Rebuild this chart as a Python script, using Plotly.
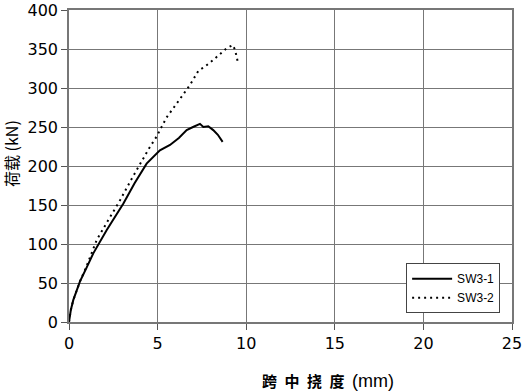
import plotly.graph_objects as go

# SW3-1 (solid)
sw31_x = [0, 0.1, 0.24, 0.62, 1.0, 1.37, 2.13, 3.07, 3.7, 4.38, 5.13, 5.5, 5.7, 6.2, 6.64, 7.0, 7.39, 7.58, 7.86, 8.14, 8.4, 8.67]
sw31_y = [0, 15, 28, 52, 70, 88, 118, 152, 178, 203, 220, 224, 227, 236, 246, 250, 254, 250, 251, 246, 240, 231]

# SW3-2 (dotted)
sw32_x = [0, 0.1, 0.24, 0.62, 1.0, 1.56, 2.2, 2.88, 3.5, 4.0, 4.5, 4.95, 5.5, 6.2, 6.83, 7.3, 7.7, 8.14, 8.5, 8.9, 9.24, 9.37, 9.52]
sw32_y = [0, 15, 28, 52, 72, 105, 130, 156, 182, 203, 222, 238, 262, 284, 304, 322, 328, 336, 343, 351, 355, 349, 334]

x_ticks = [0, 5, 10, 15, 20, 25]
y_ticks = [0, 50, 100, 150, 200, 250, 300, 350, 400]

fig = go.Figure()
fig.add_trace(go.Scatter(x=sw31_x, y=sw31_y, mode="lines", name="SW3-1",
                         line=dict(color="black", width=2, dash="solid")))
fig.add_trace(go.Scatter(x=sw32_x, y=sw32_y, mode="lines", name="SW3-2",
                         line=dict(color="black", width=2, dash="2px,4px")))

font_family = "DejaVu Sans, Liberation Sans, sans-serif"
cjk = "Noto Sans CJK SC, sans-serif"
sp = "\u2002"
fig.update_layout(
    width=526, height=391,
    margin=dict(l=69, r=14, t=10, b=69),
    paper_bgcolor="white", plot_bgcolor="white",
    font=dict(family=font_family, color="black", size=16),
    showlegend=True,
    legend=dict(x=0.761, y=0.028, xanchor="left", yanchor="bottom",
                bgcolor="white", bordercolor="#444", borderwidth=1,
                font=dict(size=12, family="Liberation Sans, sans-serif"),
                itemwidth=40, tracegroupgap=0),
    xaxis=dict(range=[0, 25], tickvals=x_ticks, showgrid=True, gridcolor="#777", gridwidth=1.2,
               showline=True, linecolor="#777", linewidth=1.5, mirror=True,
               ticks="outside", ticklen=6, tickcolor="#555", zeroline=False, automargin=False),
    yaxis=dict(range=[0, 400], tickvals=y_ticks, showgrid=True, gridcolor="#777", gridwidth=1.2,
               showline=True, linecolor="#777", linewidth=1.5, mirror=True,
               ticks="outside", ticklen=6, tickcolor="#555", zeroline=False, automargin=False),
    annotations=[
        dict(text="<b>跨" + sp + "中" + sp + "挠" + sp + "度</b>" + sp
                  + "<span style='font-family:Liberation Sans;font-size:18px'>(mm)</span>",
             xref="paper", yref="paper",
             x=(328 - 69) / 443, y=-(380 - 322) / 312, xanchor="center", yanchor="middle",
             showarrow=False, font=dict(size=15, family=cjk)),
        dict(text="荷载 (kN)", xref="paper", yref="paper", textangle=-90,
             x=-(69 - 11) / 443, y=(322 - 154) / 312, xanchor="center", yanchor="middle",
             showarrow=False, font=dict(size=16, family=cjk)),
    ],
)

fig.write_html("out.html", config={"displayModeBar": False},
               post_script="document.body.style.margin='0';")
